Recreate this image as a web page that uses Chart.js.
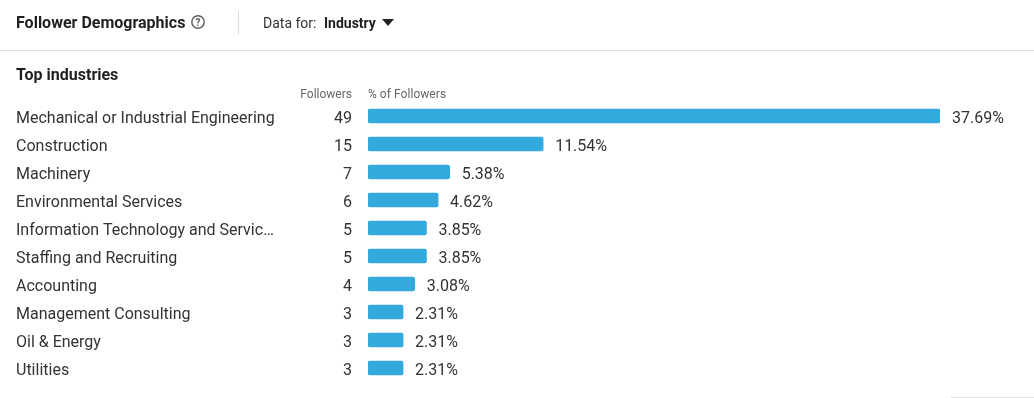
<!DOCTYPE html>
<html>
<head>
<meta charset="utf-8">
<script src="https://cdn.jsdelivr.net/npm/chart.js@4"></script>
<style>
html,body{margin:0;padding:0;background:#fff;width:1034px;height:398px;overflow:hidden;font-family:Roboto,sans-serif;color:#2b2b2b}
#wrap{position:relative;width:1034px;height:398px}
canvas{position:absolute;left:0;top:0}
.t{position:absolute;white-space:nowrap;line-height:20px}
.line{position:absolute;background:#dcdcdc}
</style>
</head>
<body>
<div id="wrap">
<canvas id="c" width="1034" height="398"></canvas>
<div class="t" style="left:16px;top:13px;font-size:16px;font-weight:700;color:#1f1f1f">Follower Demographics</div>
<svg style="position:absolute;left:191px;top:15px" width="14" height="14" viewBox="0 0 14 14">
<circle cx="7" cy="7" r="6.2" fill="none" stroke="#5c5c5c" stroke-width="1.4"/>
<text x="7" y="10.6" font-family="Roboto" font-size="10" font-weight="700" fill="#5c5c5c" text-anchor="middle">?</text>
</svg>
<div class="line" style="left:238px;top:11px;width:1px;height:24px"></div>
<div class="t" style="left:263px;top:13px;font-size:14px;color:#333">Data for:</div>
<div class="t" style="left:324px;top:13px;font-size:14px;font-weight:700;color:#1f1f1f">Industry</div>
<svg style="position:absolute;left:382px;top:19px" width="12" height="7" viewBox="0 0 12 7"><path d="M0 0H12L6 7Z" fill="#222"/></svg>
<div class="line" style="left:0;top:50px;width:1034px;height:1px"></div>
<div class="t" style="left:16px;top:65px;font-size:16px;font-weight:700;color:#1f1f1f">Top industries</div>
<div class="t" style="right:682px;top:84px;font-size:12px;color:#666">Followers</div>
<div class="t" style="left:368px;top:84px;font-size:12px;color:#666;letter-spacing:.05px">% of Followers</div>
<div class="line" style="left:951px;top:397px;width:83px;height:1px;background:#e4e4e4"></div>
</div>
<script>
const categories = ["Mechanical or Industrial Engineering","Construction","Machinery","Environmental Services","Information Technology and Servic…","Staffing and Recruiting","Accounting","Management Consulting","Oil & Energy","Utilities"];
const followers = [49,15,7,6,5,5,4,3,3,3];
const percents = [37.69,11.54,5.38,4.62,3.85,3.85,3.08,2.31,2.31,2.31];

const rowText = {
  id:'rowText',
  afterDatasetsDraw(chart){
    const {ctx,scales:{x,y}} = chart;
    ctx.save();
    ctx.font = '16px Roboto';
    ctx.fillStyle = '#333';
    ctx.textBaseline = 'middle';
    percents.forEach((p,i)=>{
      const py = y.getPixelForValue(i)+2.5;
      ctx.textAlign = 'left';
      ctx.fillText(y.getLabelForValue(i),16,py);
      ctx.textAlign = 'right';
      ctx.fillText(String(followers[i]),352,py);
      ctx.textAlign = 'left';
      ctx.fillText(p.toFixed(2)+'%',x.getPixelForValue(p)+12,py);
    });
    ctx.restore();
  }
};

new Chart(document.getElementById('c'),{
  type:'bar',
  data:{labels:categories,datasets:[{data:percents,backgroundColor:'#34a9dc',borderRadius:2,borderSkipped:false,barThickness:14}]},
  options:{
    indexAxis:'y',
    responsive:false,
    animation:false,
    layout:{padding:{left:16,right:94,top:102,bottom:16}},
    plugins:{legend:{display:false},tooltip:{enabled:false}},
    scales:{
      x:{display:false,min:0,max:37.69,grid:{display:false}},
      y:{
        grid:{display:false},
        border:{display:false},
        afterFit(s){s.width=352;},
        ticks:{display:false}
      }
    }
  },
  plugins:[rowText]
});
</script>
</body>
</html>
